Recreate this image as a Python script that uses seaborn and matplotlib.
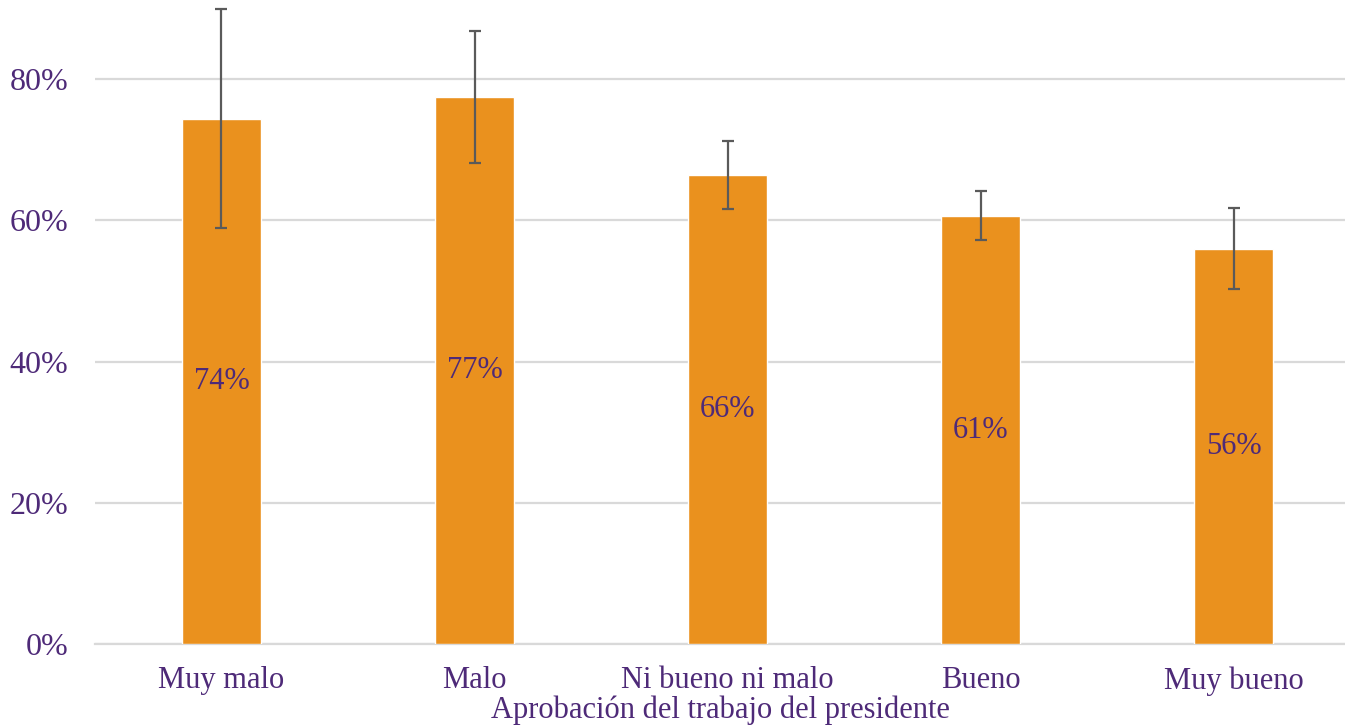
import matplotlib
matplotlib.use("Agg")
import matplotlib.pyplot as plt
import seaborn as sns
import pandas as pd
import numpy as np

categorias = ["Muy malo", "Malo", "Ni bueno ni malo", "Bueno", "Muy bueno"]
valores = [74.3, 77.4, 66.4, 60.6, 55.9]
ic_inferior = [58.9, 68.1, 61.6, 57.2, 50.3]
ic_superior = [89.9, 86.8, 71.2, 64.2, 61.8]
etiquetas = ["74%", "77%", "66%", "61%", "56%"]
ticks_y = [0, 20, 40, 60, 80]

morado = "#4E2A78"
naranja = "#EA911E"
gris = "#D9D9D9"

df = pd.DataFrame({"cat": categorias, "val": valores})

sns.set_style("white")
plt.rcParams["font.family"] = ["Liberation Serif", "DejaVu Serif"]

fig = plt.figure(figsize=(13.45, 7.25), dpi=100)
ax = fig.add_axes([0.0706, 0.1117, 0.9294, 0.8883])

sns.barplot(data=df, x="cat", y="val", color=naranja, width=0.312,
            saturation=1, ax=ax, zorder=3)

yerr = np.array([np.array(valores) - np.array(ic_inferior),
                 np.array(ic_superior) - np.array(valores)])
ax.errorbar(np.arange(len(categorias)), valores, yerr=yerr, fmt="none",
            ecolor="#5A5A5A", elinewidth=1.6, capsize=4.5, capthick=1.6, zorder=4)

for i, (v, t) in enumerate(zip(valores, etiquetas)):
    ax.text(i, v / 2, t, ha="center", va="center", fontsize=22, color=morado, zorder=5)

ax.set_ylim(0, 91.2)
ax.set_xlim(-0.5, 4.44)
ax.set_yticks(ticks_y)
ax.set_yticklabels([f"{t}%" for t in ticks_y])
ax.yaxis.grid(True, color=gris, linewidth=1.6, zorder=0)
ax.set_axisbelow(True)
for s in ["top", "right", "left"]:
    ax.spines[s].set_visible(False)
ax.spines["bottom"].set_color(gris)
ax.spines["bottom"].set_linewidth(1.6)

ax.tick_params(axis="y", length=0, pad=19, labelsize=23, labelcolor=morado)
ax.tick_params(axis="x", length=0, pad=16, labelsize=22, labelcolor=morado)
ax.set_ylabel("")
ax.set_xlabel("Aprobación del trabajo del presidente", fontsize=22, color=morado, labelpad=0)

fig.savefig("out.png", dpi=100)
